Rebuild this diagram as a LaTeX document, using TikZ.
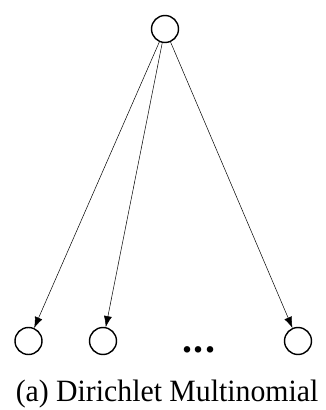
\documentclass[tikz,border=0pt]{standalone}
\usepackage{fontspec}
\setmainfont{Liberation Serif}
\usetikzlibrary{arrows.meta}
\begin{document}
\begin{tikzpicture}[x=1pt,y=1pt,
  var/.style={circle,draw,line width=1.4pt,minimum size=27pt,inner sep=0pt},
  edge/.style={-{Latex[length=11pt,width=8pt]},line width=0.5pt},
  lbl/.style={font=\fontsize{31}{34}\selectfont,inner sep=0pt}]
\useasboundingbox (0,0) rectangle (325,410);
\node[var] (top) at (165,381) {};
\node[var] (b1) at (28.5,69) {};
\node[var] (b2) at (103,69) {};
\node[var] (b3) at (298,69) {};
\node[inner sep=0pt,font=\fontsize{40}{44}\selectfont\bfseries] (dots) at (199,60) {.\hspace{1.5pt}.\hspace{1.5pt}.};
\node[lbl,anchor=base,xscale=0.96] (cap) at (167,9) {(a) Dirichlet Multinomial};
\draw[edge] (top) -- (b1);
\draw[edge] (top) -- (b2);
\draw[edge] (top) -- (b3);
\end{tikzpicture}
\end{document}
